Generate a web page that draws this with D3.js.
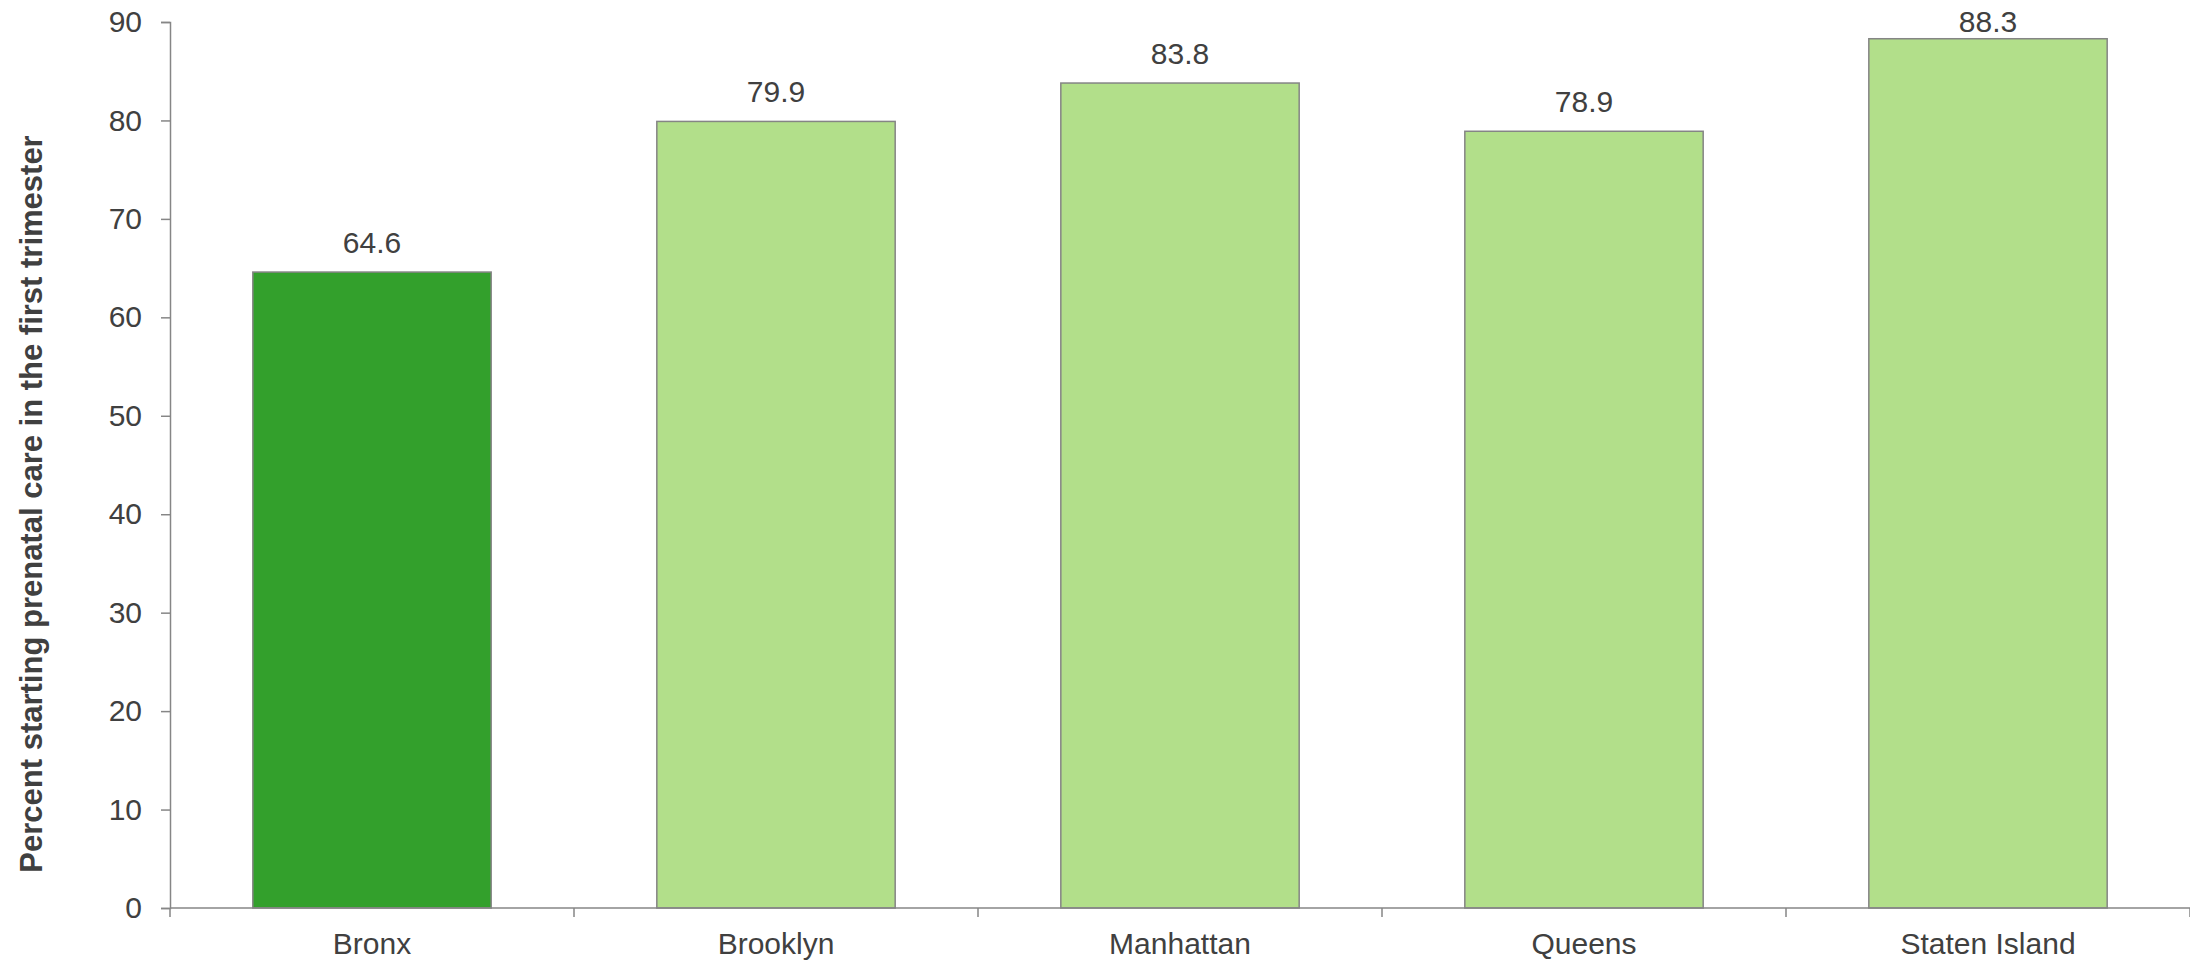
<!DOCTYPE html>
<html>
<head>
<meta charset="utf-8">
<script src="https://cdn.jsdelivr.net/npm/d3@7"></script>
<style>
  html, body { margin: 0; padding: 0; background: #fff; }
  svg { display: block; font-family: "Liberation Sans", Arial, sans-serif; }
</style>
</head>
<body>
<svg id="chart" width="2190" height="960"></svg>
<script>
// Boroughs and the share of births with prenatal care begun in the first trimester
const boroughs = ["Bronx", "Brooklyn", "Manhattan", "Queens", "Staten Island"];
const percents = [64.6, 79.9, 83.8, 78.9, 88.3];
const barColors = ["#33a02c", "#b2df8a", "#b2df8a", "#b2df8a", "#b2df8a"];
const yTicks = [0, 10, 20, 30, 40, 50, 60, 70, 80, 90];
const yTitle = "Percent starting prenatal care in the first trimester";

const svg = d3.select("#chart");
const margin = { top: 22, right: 0, bottom: 52, left: 170 };
const W = 2190, H = 960;
const innerW = W - margin.left - margin.right;
const innerH = H - margin.top - margin.bottom;

const g = svg.append("g").attr("transform", `translate(${margin.left},${margin.top})`);

const pad = 0.41;
const x = d3.scaleBand().domain(boroughs).range([0, innerW])
  .paddingInner(pad).paddingOuter(pad / 2);
const y = d3.scaleLinear().domain([0, 90]).range([innerH, 0]);

const axisColor = "#868686";
const textColor = "#404040";
const fontSize = 30;

// bars
g.selectAll("rect.bar").data(boroughs).join("rect")
  .attr("class", "bar")
  .attr("x", d => x(d))
  .attr("y", (d, i) => y(percents[i]))
  .attr("width", x.bandwidth())
  .attr("height", (d, i) => y(0) - y(percents[i]))
  .attr("fill", (d, i) => barColors[i])
  .attr("stroke", "#858585")
  .attr("stroke-width", 1.5);

// value labels, kept inside the top of the canvas
const minBaseline = 32 - margin.top;
g.selectAll("text.val").data(boroughs).join("text")
  .attr("class", "val")
  .attr("x", d => x(d) + x.bandwidth() / 2)
  .attr("y", (d, i) => Math.max(y(percents[i]) - 19, minBaseline))
  .attr("text-anchor", "middle")
  .attr("font-size", fontSize)
  .attr("fill", textColor)
  .text((d, i) => percents[i].toFixed(1));

// y axis
const yAxis = g.append("g").call(d3.axisLeft(y).tickValues(yTicks).tickSize(9).tickPadding(19));
yAxis.select(".domain").attr("stroke", axisColor).attr("stroke-width", 1.5);
yAxis.selectAll(".tick line").attr("stroke", axisColor).attr("stroke-width", 1.5);
yAxis.selectAll(".tick text").attr("font-size", fontSize).attr("fill", textColor)
  .attr("font-family", "Liberation Sans, Arial, sans-serif");

// x axis: ticks fall on the boundaries between categories
const xAxis = g.append("g").attr("transform", `translate(0,${innerH})`);
xAxis.append("line")
  .attr("x1", 0).attr("x2", innerW)
  .attr("y1", 0).attr("y2", 0)
  .attr("stroke", axisColor).attr("stroke-width", 1.5);
const step = x.step();
const bounds = d3.range(boroughs.length + 1).map(i => i * step);
xAxis.selectAll("line.tk").data(bounds).join("line")
  .attr("class", "tk")
  .attr("x1", d => d).attr("x2", d => d)
  .attr("y1", 0).attr("y2", 9)
  .attr("stroke", axisColor).attr("stroke-width", 1.5);
xAxis.selectAll("text.cat").data(boroughs).join("text")
  .attr("class", "cat")
  .attr("x", d => x(d) + x.bandwidth() / 2)
  .attr("y", 46)
  .attr("text-anchor", "middle")
  .attr("font-size", fontSize)
  .attr("fill", textColor)
  .text(d => d);

// y axis title
svg.append("text")
  .attr("transform", "translate(42,504) rotate(-90)")
  .attr("text-anchor", "middle")
  .attr("font-size", 31)
  .attr("font-weight", "bold")
  .attr("fill", textColor)
  .text(yTitle);
</script>
</body>
</html>
